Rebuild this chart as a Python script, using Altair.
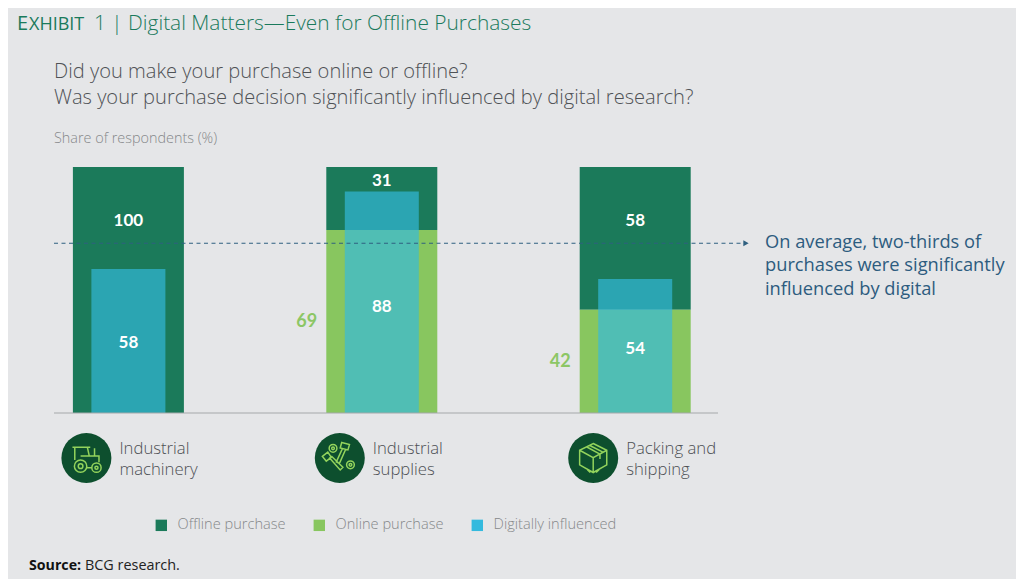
import altair as alt
import pandas as pd

categories = ["Industrial machinery", "Industrial supplies", "Packing and shipping"]
category_lines = [["Industrial", "machinery"], ["Industrial", "supplies"], ["Packing and", "shipping"]]
# heights as drawn in the picture (share of the 100% column)
online_drawn = [0, 74.4, 42]
digital_drawn = [58.5, 90, 54.5]
average_line = 69
# printed labels
offline_labels = [100, 31, 58]
online_labels = [None, 69, 42]
digital_labels = [58, 88, 54]
# label anchors in axis units
offline_label_at = [78.5, 95, 78.5]
digital_label_at = [29, 43.5, 26.5]
series = ["Offline purchase", "Online purchase", "Digitally influenced"]
colors = ["#1b7a5a", "#88c65f", "#34bade"]

BG = "#e5e6e8"
BODY = "Open Sans"
xs = alt.X("cat:N", scale=alt.Scale(type="point", domain=categories, range=[120.4, 627.2], padding=0), axis=None)
ys = alt.Scale(domain=[0, 100], range=[405, 159])
col = alt.Color("s:N", scale=alt.Scale(domain=series, range=colors),
                legend=alt.Legend(orient="none", legendX=146, legendY=510, direction="horizontal",
                                  title=None, symbolType="square", symbolSize=130, symbolOpacity=1,
                                  symbolStrokeWidth=0, labelFont=BODY, labelFontSize=14.6, labelColor="#85888a",
                                  labelFontWeight=300, columnPadding=26, columns=3, labelOffset=9))

bars = pd.DataFrame({"cat": categories, "online": online_drawn, "digital": digital_drawn, "top": [100] * 3})
off = bars.assign(s=series[0])
on = bars[bars.online > 0].assign(s=series[1])
dig = bars.assign(s=series[2], zero=0)


def txt(x, y, t, size, color, weight=300, font=BODY, align="left"):
    return alt.Chart(pd.DataFrame({"t": [t]})).mark_text(
        align=align, baseline="middle", fontSize=size, color=color, fontWeight=weight, font=font
    ).encode(x=alt.value(x - 8), y=alt.value(y - 8), text="t:N")


def circ(cx, cy, r):
    return f"M{cx - r} {cy}a{r} {r} 0 1 0 {2 * r} 0a{r} {r} 0 1 0 {-2 * r} 0Z"


tractor = (circ(-.3, .42, .32) + circ(-.3, .42, .12) + circ(.52, .5, .24) + circ(.52, .5, .08)
           + "M-.6 .1V-.55H.05L.15 -.1H.65V.22M-.72 -.55H.2M.42 -.1V-.5M.02 .5H.28M-.3 -.1H.15")
bolts = (circ(-.35, -.5, .2) + circ(.55, .35, .2) + circ(-.35, -.5, .07) + circ(.55, .35, .07)
         + "M.1 -.8L.5 -.7L.42 -.42L.02 -.52ZM.14 -.5L-.18 .2L-.02 .28L.3 -.44"
         + "M-.9 -.08L-.62 -.3L-.44 -.04L-.7 .16ZM-.55 -.02L.02 .62L.16 .48L-.44 -.1")
box = ("M0 -.75L.7 -.4V.35L0 .75L-.7 .35V-.4ZM-.7 -.4L0 -.02L.7 -.4M0 -.02V.75"
       "M-.35 -.58L.35 -.2V.05M-.2 -.66L.5 -.3M-.3 .6L-.15 .75M.3 .6L.15 .75")
icons = [tractor, bolts, box]

layers = [
    alt.Chart(off).mark_bar(width=111).encode(x=xs, y=alt.Y("top:Q", scale=ys, axis=None),
                                              y2=alt.Y2("online:Q"), color=col),
    alt.Chart(on).mark_bar(width=111).encode(x=xs, y=alt.Y("online:Q", scale=ys, axis=None), color=col),
    alt.Chart(dig).mark_bar(width=74, opacity=.67).encode(x=xs, y=alt.Y("digital:Q", scale=ys, axis=None), color=col),
]

layers.append(alt.Chart(pd.DataFrame({"v": [0]})).mark_rule(color="#a5a8aa", strokeWidth=1).encode(
    x=alt.value(46), x2=alt.value(710), y=alt.Y("v:Q", scale=ys, axis=None)))
avg = pd.DataFrame({"v": [average_line]})
layers.append(alt.Chart(avg).mark_rule(color="#2f6080", strokeWidth=1.2, strokeDash=[4, 3.5]).encode(
    x=alt.value(46), x2=alt.value(735), y=alt.Y("v:Q", scale=ys, axis=None)))
layers.append(alt.Chart(avg).mark_point(shape="triangle-right", size=38, filled=True, color="#2f6080", opacity=1).encode(
    x=alt.value(738), y=alt.Y("v:Q", scale=ys, axis=None)))

lab = pd.DataFrame({"cat": categories, "off": offline_labels, "off_at": offline_label_at,
                    "dig": digital_labels, "dig_at": digital_label_at,
                    "onl": online_labels, "onl_at": [o / 2 for o in online_drawn]})
white = dict(baseline="middle", fontSize=17, fontWeight=700, font="Lato", color="#ffffff", dy=1.5)
layers.append(alt.Chart(lab).mark_text(**white).encode(x=xs, y=alt.Y("off_at:Q", scale=ys, axis=None), text="off:Q"))
layers.append(alt.Chart(lab).mark_text(**white).encode(x=xs, y=alt.Y("dig_at:Q", scale=ys, axis=None), text="dig:Q"))
layers.append(alt.Chart(lab[lab.onl.notna()]).mark_text(
    baseline="middle", fontSize=18, fontWeight=700, font="Lato", color="#8cc665", dx=-75, dy=1
).encode(x=xs, y=alt.Y("onl_at:Q", scale=ys, axis=None), text="onl:Q"))

names = pd.DataFrame({"cat": categories, "lines": category_lines})
layers.append(alt.Chart(names).mark_circle(size=2500, color="#0d4f2e", opacity=1, xOffset=-42).encode(
    x=xs, y=alt.value(450)))
for c, path in zip(categories, icons):
    layers.append(alt.Chart(names[names.cat == c]).mark_point(
        shape=path, size=1500, filled=False, color="#93d35c", strokeWidth=1.5, opacity=1, xOffset=-42
    ).encode(x=xs, y=alt.value(450)))
layers.append(alt.Chart(names).mark_text(
    align="left", baseline="middle", fontSize=16.7, fontWeight=300, font=BODY, color="#4d5054",
    lineHeight=21, dx=-9
).encode(x=xs, y=alt.value(440.5), text="lines:N"))

layers += [
    txt(17, 24, "E", 20, "#1a7a5c", 400),
    txt(29, 25, "XHIBIT", 18, "#1a7a5c", 400),
    txt(94, 24, "1 | Digital Matters—Even for Offline Purchases", 20.9, "#1a7a5c", 300),
    txt(54, 72, "Did you make your purchase online or offline?", 20.1, "#4f5256"),
    txt(54, 98, "Was your purchase decision significantly influenced by digital research?", 20.1, "#4f5256"),
    txt(54, 139, "Share of respondents (%)", 14.4, "#85888a"),
    txt(765, 243, "On average, two-thirds of", 18.3, "#2d5c7f", 400),
    txt(765, 266, "purchases were significantly", 18.3, "#2d5c7f", 400),
    txt(765, 290, "influenced by digital", 18.3, "#2d5c7f", 400),
    txt(29, 566, "Source:", 14.2, "#111111", 700),
    txt(85, 566, "BCG research.", 14.4, "#222222", 400),
]

chart = alt.layer(*layers).resolve_scale(color="shared").properties(
    width=1008, height=571, background=BG, padding=0,
    autosize=alt.AutoSizeParams(type="none")
).configure_view(stroke=None)

chart.save("out.html", embed_options={"renderer": "svg", "actions": False})
